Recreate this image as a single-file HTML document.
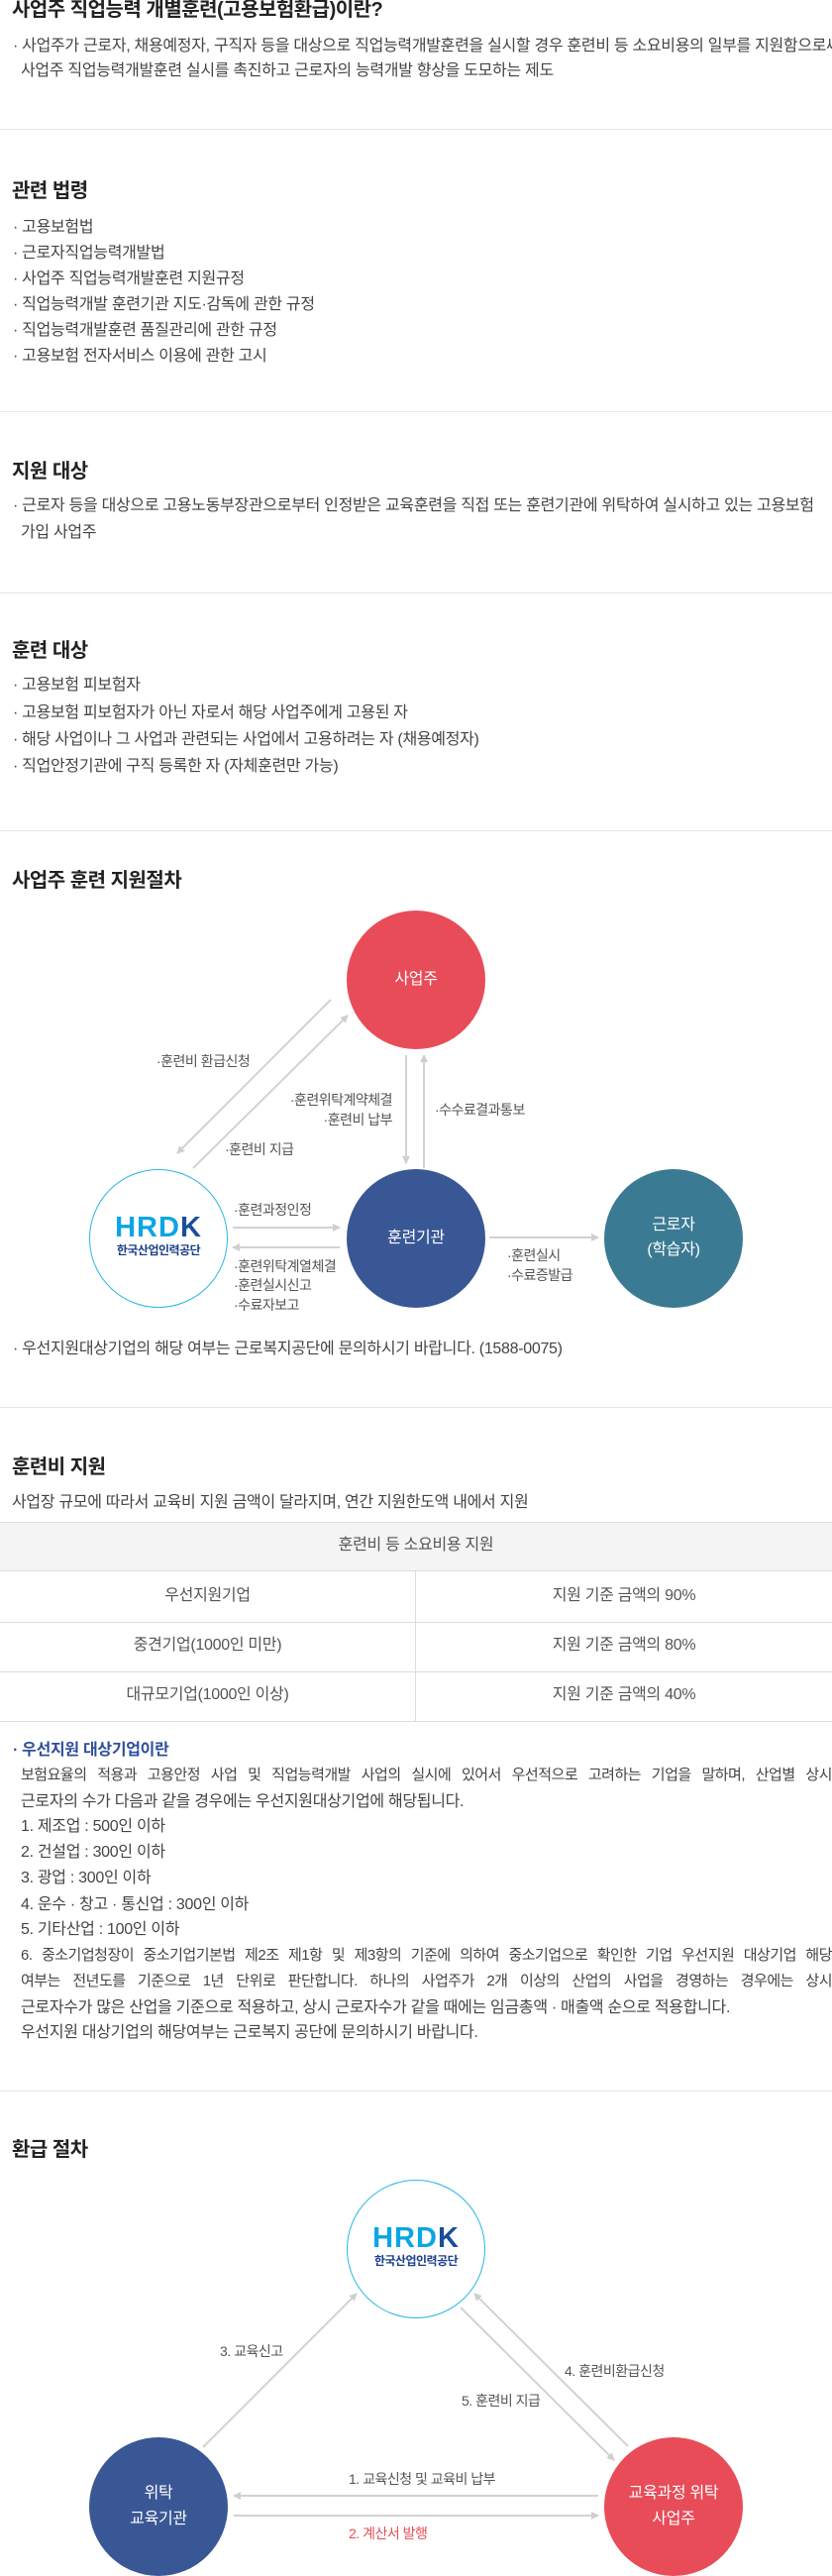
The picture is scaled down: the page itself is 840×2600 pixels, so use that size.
<!DOCTYPE html>
<html><head><meta charset="utf-8">
<style>
*{margin:0;padding:0;box-sizing:border-box}
body{width:840px;height:2600px;background:#fff;position:relative;overflow:hidden;font-family:"Liberation Sans","Noto Sans CJK KR",sans-serif;color:#444}
.a{position:absolute;white-space:nowrap;line-height:20px}
.h{font-size:20px;font-weight:bold;color:#222;line-height:26px;letter-spacing:-0.5px}
.b{font-size:16px;letter-spacing:-0.3px;color:#444}
.s{font-size:14px;letter-spacing:-0.5px;color:#555}
.w{font-size:16px;color:#fff;text-align:center;letter-spacing:-0.3px}
.hr{position:absolute;left:0;width:840px;height:1px;background:#e6e6e6}
.j{position:absolute;left:21px;width:819px;font-size:15px;letter-spacing:-0.5px;color:#444;line-height:20px;text-align:justify;text-align-last:justify;white-space:nowrap}
.logo{position:absolute;text-align:center;width:140px}
.logo .l1{font-family:"Liberation Sans",sans-serif;font-weight:bold;font-size:29px;color:#0aa5e6;letter-spacing:1px;line-height:30px}
.logo .l1 span{color:#1b4e9b}
.logo .l2{font-weight:bold;font-size:12px;color:#1b3f8b;letter-spacing:-0.5px;line-height:16px}
</style></head><body>
<svg width="840" height="2600" style="position:absolute;left:0;top:0">
<defs><marker id="m" markerWidth="8" markerHeight="8" refX="7" refY="4" orient="auto" markerUnits="userSpaceOnUse"><path d="M0,0 L8,4 L0,8 z" fill="#cfcfcf"/></marker></defs>
<g stroke="#d2d2d2" stroke-width="2" fill="none" marker-end="url(#m)">
<line x1="334" y1="1009" x2="179" y2="1164"/>
<line x1="195" y1="1179" x2="351" y2="1025"/>
<line x1="410" y1="1065" x2="410" y2="1174"/>
<line x1="428" y1="1179" x2="428" y2="1065"/>
<line x1="235" y1="1239" x2="343" y2="1239"/>
<line x1="343" y1="1259" x2="235" y2="1259"/>
<line x1="494" y1="1249" x2="604" y2="1249"/>
<line x1="205" y1="2470" x2="360" y2="2315"/>
<line x1="465" y1="2329" x2="620" y2="2483"/>
<line x1="634" y1="2469" x2="479" y2="2315"/>
<line x1="604" y1="2519" x2="236" y2="2519"/>
<line x1="236" y1="2539" x2="604" y2="2539"/>
</g>
<circle cx="420" cy="989" r="70" fill="#e84c58"/>
<circle cx="160" cy="1250" r="69.5" fill="#fff" stroke="#29b6e8" stroke-width="1"/>
<circle cx="420" cy="1250" r="70" fill="#3a5795"/>
<circle cx="680" cy="1250" r="70" fill="#3b7a93"/>
<circle cx="420" cy="2270" r="69.5" fill="#fff" stroke="#29b6e8" stroke-width="1"/>
<circle cx="160" cy="2530" r="70" fill="#3a5795"/>
<circle cx="680" cy="2530" r="70" fill="#e84c58"/>
</svg>

<div class="a h" style="left:12px;top:-3px">사업주 직업능력 개별훈련(고용보험환급)이란?</div>
<div class="a b" style="left:13px;top:37px;width:827px;overflow:hidden">· 사업주가 근로자, 채용예정자, 구직자 등을 대상으로 직업능력개발훈련을 실시할 경우 훈련비 등 소요비용의 일부를 지원함으로써</div>
<div class="a b" style="left:21px;top:62px">사업주 직업능력개발훈련 실시를 촉진하고 근로자의 능력개발 향상을 도모하는 제도</div>
<div class="hr" style="top:130px"></div>

<div class="a h" style="left:12px;top:180px">관련 법령</div>
<div class="a b" style="left:13px;top:220px">· 고용보험법</div>
<div class="a b" style="left:13px;top:246px">· 근로자직업능력개발법</div>
<div class="a b" style="left:13px;top:272px">· 사업주 직업능력개발훈련 지원규정</div>
<div class="a b" style="left:13px;top:298px">· 직업능력개발 훈련기관 지도·감독에 관한 규정</div>
<div class="a b" style="left:13px;top:324px">· 직업능력개발훈련 품질관리에 관한 규정</div>
<div class="a b" style="left:13px;top:350px">· 고용보험 전자서비스 이용에 관한 고시</div>
<div class="hr" style="top:415px"></div>

<div class="a h" style="left:12px;top:463px">지원 대상</div>
<div class="a b" style="left:13px;top:501px;width:827px;overflow:hidden">· 근로자 등을 대상으로 고용노동부장관으로부터 인정받은 교육훈련을 직접 또는 훈련기관에 위탁하여 실시하고 있는 고용보험</div>
<div class="a b" style="left:21px;top:528px">가입 사업주</div>
<div class="hr" style="top:598px"></div>

<div class="a h" style="left:12px;top:644px">훈련 대상</div>
<div class="a b" style="left:13px;top:682px">· 고용보험 피보험자</div>
<div class="a b" style="left:13px;top:710px">· 고용보험 피보험자가 아닌 자로서 해당 사업주에게 고용된 자</div>
<div class="a b" style="left:13px;top:737px">· 해당 사업이나 그 사업과 관련되는 사업에서 고용하려는 자 (채용예정자)</div>
<div class="a b" style="left:13px;top:764px">· 직업안정기관에 구직 등록한 자 (자체훈련만 가능)</div>
<div class="hr" style="top:838px"></div>

<div class="a h" style="left:12px;top:876px">사업주 훈련 지원절차</div>
<div class="a w" style="left:350px;top:979px;width:140px">사업주</div>
<div class="logo" style="left:90px;top:1224px"><div class="l1">HRD<span>K</span></div><div class="l2">한국산업인력공단</div></div>
<div class="a w" style="left:350px;top:1240px;width:140px">훈련기관</div>
<div class="a w" style="left:610px;top:1227px;width:140px">근로자</div>
<div class="a w" style="left:610px;top:1252px;width:140px">(학습자)</div>
<div class="a s" style="left:158px;top:1061px">·훈련비 환급신청</div>
<div class="a s" style="left:236px;top:1100px;width:160px;text-align:right">·훈련위탁계약체결</div>
<div class="a s" style="left:236px;top:1120px;width:160px;text-align:right">·훈련비 납부</div>
<div class="a s" style="left:439px;top:1110px">·수수료결과통보</div>
<div class="a s" style="left:227px;top:1150px">·훈련비 지급</div>
<div class="a s" style="left:236px;top:1211px">·훈련과정인정</div>
<div class="a s" style="left:236px;top:1268px">·훈련위탁계열체결</div>
<div class="a s" style="left:236px;top:1287px">·훈련실시신고</div>
<div class="a s" style="left:236px;top:1307px">·수료자보고</div>
<div class="a s" style="left:512px;top:1257px">·훈련실시</div>
<div class="a s" style="left:512px;top:1277px">·수료증발급</div>
<div class="a b" style="left:13px;top:1352px">· 우선지원대상기업의 해당 여부는 근로복지공단에 문의하시기 바랍니다. (1588-0075)</div>
<div class="hr" style="top:1420px"></div>

<div class="a h" style="left:12px;top:1468px">훈련비 지원</div>
<div class="a b" style="left:12px;top:1507px">사업장 규모에 따라서 교육비 지원 금액이 달라지며, 연간 지원한도액 내에서 지원</div>
<div style="position:absolute;left:0;top:1536px;width:840px;height:50px;background:#f4f4f4;border-top:1px solid #ddd;border-bottom:1px solid #ddd"></div>
<div class="a b" style="left:0;top:1550px;width:840px;text-align:center;color:#555">훈련비 등 소요비용 지원</div>
<div class="hr" style="top:1637px;background:#ddd"></div>
<div class="hr" style="top:1687px;background:#ddd"></div>
<div class="hr" style="top:1737px;background:#ddd"></div>
<div style="position:absolute;left:419px;top:1586px;width:1px;height:151px;background:#ddd"></div>
<div class="a b" style="left:0;top:1601px;width:419px;text-align:center;color:#555">우선지원기업</div>
<div class="a b" style="left:420px;top:1601px;width:420px;text-align:center;color:#555">지원 기준 금액의 90%</div>
<div class="a b" style="left:0;top:1651px;width:419px;text-align:center;color:#555">중견기업(1000인 미만)</div>
<div class="a b" style="left:420px;top:1651px;width:420px;text-align:center;color:#555">지원 기준 금액의 80%</div>
<div class="a b" style="left:0;top:1701px;width:419px;text-align:center;color:#555">대규모기업(1000인 이상)</div>
<div class="a b" style="left:420px;top:1701px;width:420px;text-align:center;color:#555">지원 기준 금액의 40%</div>
<div class="a b" style="left:13px;top:1757px;color:#2f4f9a;font-weight:bold">· 우선지원 대상기업이란</div>
<div class="j" style="top:1782px">보험요율의 적용과 고용안정 사업 및 직업능력개발 사업의 실시에 있어서 우선적으로 고려하는 기업을 말하며, 산업별 상시</div>
<div class="a b" style="left:21px;top:1809px">근로자의 수가 다음과 같을 경우에는 우선지원대상기업에 해당됩니다.</div>
<div class="a b" style="left:21px;top:1834px">1. 제조업 : 500인 이하</div>
<div class="a b" style="left:21px;top:1860px">2. 건설업 : 300인 이하</div>
<div class="a b" style="left:21px;top:1886px">3. 광업 : 300인 이하</div>
<div class="a b" style="left:21px;top:1913px">4. 운수 · 창고 · 통신업 : 300인 이하</div>
<div class="a b" style="left:21px;top:1938px">5. 기타산업 : 100인 이하</div>
<div class="j" style="top:1964px">6. 중소기업청장이 중소기업기본법 제2조 제1항 및 제3항의 기준에 의하여 중소기업으로 확인한 기업 우선지원 대상기업 해당</div>
<div class="j" style="top:1990px">여부는 전년도를 기준으로 1년 단위로 판단합니다. 하나의 사업주가 2개 이상의 산업의 사업을 경영하는 경우에는 상시</div>
<div class="a b" style="left:21px;top:2017px">근로자수가 많은 산업을 기준으로 적용하고, 상시 근로자수가 같을 때에는 임금총액 · 매출액 순으로 적용합니다.</div>
<div class="a b" style="left:21px;top:2042px">우선지원 대상기업의 해당여부는 근로복지 공단에 문의하시기 바랍니다.</div>
<div class="hr" style="top:2110px"></div>

<div class="a h" style="left:12px;top:2157px">환급 절차</div>
<div class="logo" style="left:350px;top:2244px"><div class="l1">HRD<span>K</span></div><div class="l2">한국산업인력공단</div></div>
<div class="a w" style="left:90px;top:2507px;width:140px">위탁</div>
<div class="a w" style="left:90px;top:2533px;width:140px">교육기관</div>
<div class="a w" style="left:610px;top:2507px;width:140px">교육과정 위탁</div>
<div class="a w" style="left:610px;top:2533px;width:140px">사업주</div>
<div class="a s" style="left:222px;top:2363px">3. 교육신고</div>
<div class="a s" style="left:570px;top:2383px">4. 훈련비환급신청</div>
<div class="a s" style="left:466px;top:2413px">5. 훈련비 지급</div>
<div class="a s" style="left:352px;top:2492px">1. 교육신청 및 교육비 납부</div>
<div class="a s" style="left:352px;top:2547px;color:#e84c58">2. 계산서 발행</div>
</body></html>
